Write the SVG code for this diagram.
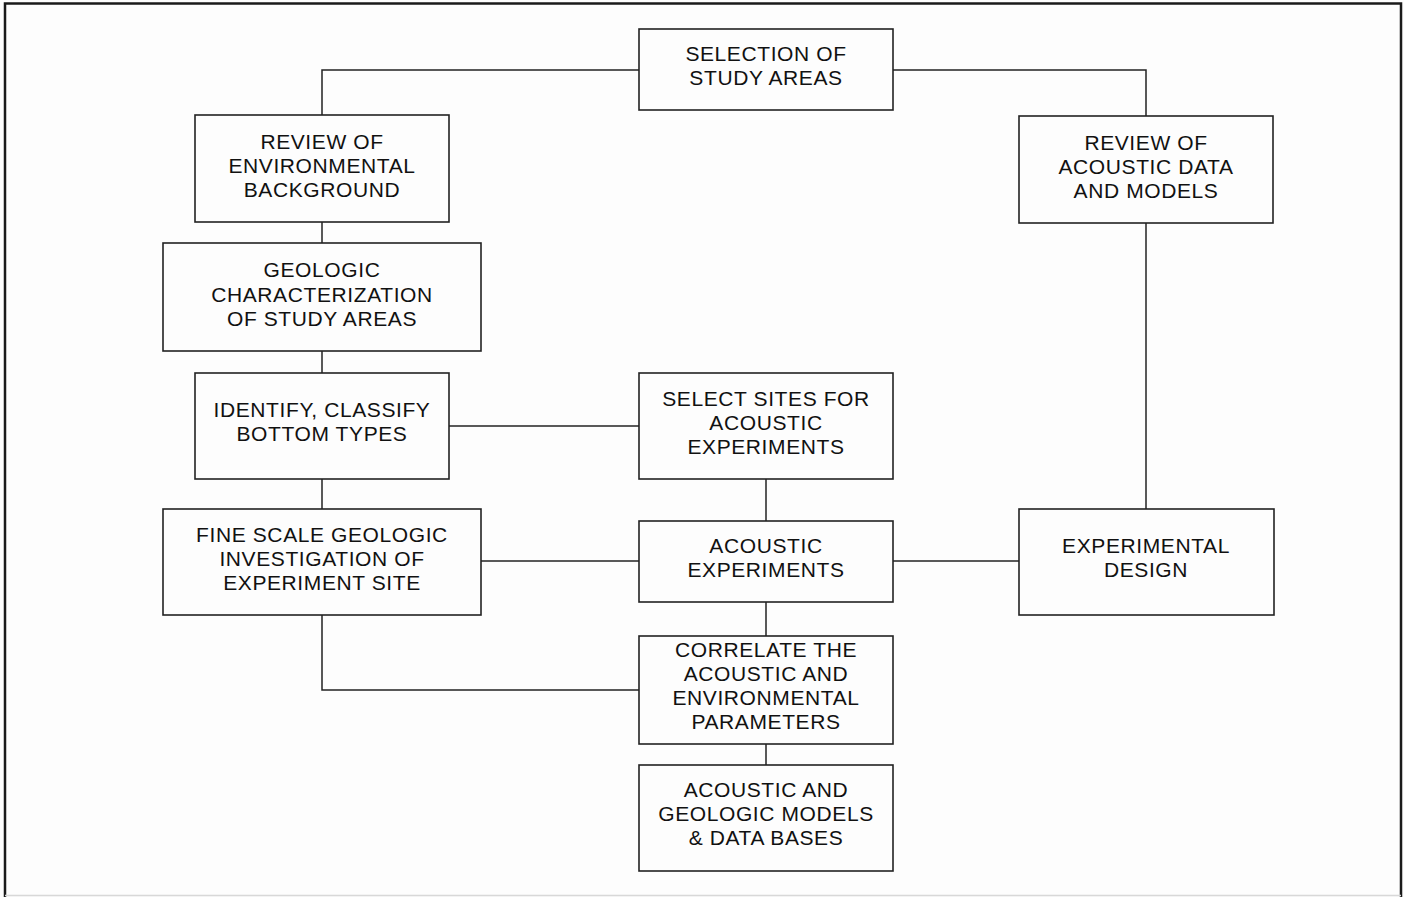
<svg xmlns="http://www.w3.org/2000/svg" width="1404" height="897" viewBox="0 0 1404 897">
  <style>
    .box { fill: #fdfdfd; stroke: #222; stroke-width: 1.6; }
    .lbl { font-family: "Liberation Sans", Arial, sans-serif; font-size: 21px; letter-spacing: 0.6px; fill: #111; text-anchor: middle; }
    .conn { fill: none; stroke: #222; stroke-width: 1.5; }
  </style>
  <rect x="0" y="0" width="1404" height="897" fill="#fdfdfd"/>
  <!-- outer frame -->
  <path d="M5,897 V3.5 H1401 V897" fill="none" stroke="#1a1a1a" stroke-width="2.5"/>
  <line x1="5" y1="895.5" x2="1401" y2="895.5" stroke="#d8d8d8" stroke-width="1.5"/>

  <g id="connectors" class="conn">
    <path d="M639,70 H322 V115"/>
    <path d="M893,70 H1146 V116"/>
    <path d="M322,222 V243"/>
    <path d="M322,351 V373"/>
    <path d="M322,479 V509"/>
    <path d="M449,426 H639"/>
    <path d="M766,479 V521"/>
    <path d="M481,561 H639"/>
    <path d="M893,561 H1019"/>
    <path d="M1146,223 V509"/>
    <path d="M766,602 V636"/>
    <path d="M322,615 V690 H639"/>
    <path d="M766,744 V765"/>
  </g>

  <g id="selection">
    <rect class="box" x="639" y="29" width="254" height="81"/>
    <text class="lbl" x="766" y="61">SELECTION OF</text>
    <text class="lbl" x="766" y="85">STUDY AREAS</text>
  </g>
  <g id="review-env">
    <rect class="box" x="195" y="115" width="254" height="107"/>
    <text class="lbl" x="322" y="149">REVIEW OF</text>
    <text class="lbl" x="322" y="173">ENVIRONMENTAL</text>
    <text class="lbl" x="322" y="197">BACKGROUND</text>
  </g>
  <g id="geologic">
    <rect class="box" x="163" y="243" width="318" height="108"/>
    <text class="lbl" x="322" y="277">GEOLOGIC</text>
    <text class="lbl" x="322" y="302">CHARACTERIZATION</text>
    <text class="lbl" x="322" y="326">OF STUDY AREAS</text>
  </g>
  <g id="identify">
    <rect class="box" x="195" y="373" width="254" height="106"/>
    <text class="lbl" x="322" y="417">IDENTIFY, CLASSIFY</text>
    <text class="lbl" x="322" y="441">BOTTOM TYPES</text>
  </g>
  <g id="fine-scale">
    <rect class="box" x="163" y="509" width="318" height="106"/>
    <text class="lbl" x="322" y="542">FINE SCALE GEOLOGIC</text>
    <text class="lbl" x="322" y="566">INVESTIGATION OF</text>
    <text class="lbl" x="322" y="590">EXPERIMENT SITE</text>
  </g>
  <g id="select-sites">
    <rect class="box" x="639" y="373" width="254" height="106"/>
    <text class="lbl" x="766" y="406">SELECT SITES FOR</text>
    <text class="lbl" x="766" y="430">ACOUSTIC</text>
    <text class="lbl" x="766" y="454">EXPERIMENTS</text>
  </g>
  <g id="acoustic-experiments">
    <rect class="box" x="639" y="521" width="254" height="81"/>
    <text class="lbl" x="766" y="553">ACOUSTIC</text>
    <text class="lbl" x="766" y="577">EXPERIMENTS</text>
  </g>
  <g id="correlate">
    <rect class="box" x="639" y="636" width="254" height="108"/>
    <text class="lbl" x="766" y="657">CORRELATE THE</text>
    <text class="lbl" x="766" y="681">ACOUSTIC AND</text>
    <text class="lbl" x="766" y="705">ENVIRONMENTAL</text>
    <text class="lbl" x="766" y="729">PARAMETERS</text>
  </g>
  <g id="models">
    <rect class="box" x="639" y="765" width="254" height="106"/>
    <text class="lbl" x="766" y="797">ACOUSTIC AND</text>
    <text class="lbl" x="766" y="821">GEOLOGIC MODELS</text>
    <text class="lbl" x="766" y="845">&amp; DATA BASES</text>
  </g>
  <g id="review-acoustic">
    <rect class="box" x="1019" y="116" width="254" height="107"/>
    <text class="lbl" x="1146" y="150">REVIEW OF</text>
    <text class="lbl" x="1146" y="174">ACOUSTIC DATA</text>
    <text class="lbl" x="1146" y="198">AND MODELS</text>
  </g>
  <g id="experimental-design">
    <rect class="box" x="1019" y="509" width="255" height="106"/>
    <text class="lbl" x="1146" y="553">EXPERIMENTAL</text>
    <text class="lbl" x="1146" y="577">DESIGN</text>
  </g>
</svg>
